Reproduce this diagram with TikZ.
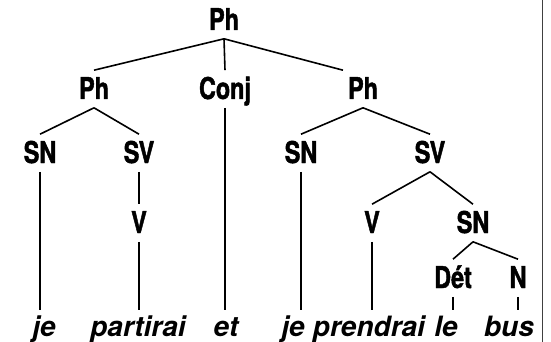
\documentclass[tikz,border=0pt]{standalone}
\usepackage{fontspec}
\setmainfont{TeX Gyre Heros}
\newfontfamily\condfont{TeX Gyre Heros}[FakeStretch=0.78,FakeBold=1.5]
\usetikzlibrary{calc}

\begin{document}
\begin{tikzpicture}[x=1pt,y=-1pt,line width=1.6pt,
  cat/.style={font=\condfont\bfseries\fontsize{30}{30}\selectfont,anchor=base,text height=20pt,text depth=0pt,inner ysep=8pt,inner xsep=0pt},
  word/.style={font=\bfseries\itshape\fontsize{28}{28}\selectfont,anchor=base,text height=17pt,text depth=0pt,inner ysep=8pt,inner xsep=0pt}]
\useasboundingbox (0,0) rectangle (551,342);
\draw[black!75,line width=1.2pt] (542.5,0) -- (542.5,342);
\node[cat] (ph) at (224,30) {Ph};
\node[cat] (phA) at (94,99) {Ph};
\node[cat] (conj) at (225,99) {Conj};
\node[cat] (phB) at (363,99) {Ph};
\node[cat] (snA) at (40,163) {SN};
\node[cat] (svA) at (139,163) {SV};
\node[cat] (snB) at (301,163) {SN};
\node[cat] (svB) at (430,163) {SV};
\node[cat] (vA) at (139,233) {V};
\node[cat] (vB) at (372,233) {V};
\node[cat] (snC) at (473,233) {SN};
\node[cat] (det) at (453,288) {Dét};
\node[cat] (n) at (518,288) {N};
% mots
\node[word] (je) at (44,336) {je};
\node[word] (partirai) at (138,336) {partirai};
\node[word] (et) at (226,336) {et};
\node[word] (jeB) at (293,336) {je};
\node[word] (prendrai) at (369,336) {prendrai};
\node[word] (le) at (446,336) {le};
\node[word] (bus) at (509,336) {bus};
\draw (ph.south) -- (phA.north);
\draw (ph.south) -- (conj.north);
\draw (ph.south) -- ([xshift=-20pt]phB.north);
\draw (phA.south) -- (snA.north);
\draw (phA.south) -- (svA.north);
\draw (phB.south) -- (snB.north);
\draw (phB.south) -- (svB.north);
\draw (svA.south) -- (vA.north);
\draw (svB.south) -- (vB.north);
\draw (svB.south) -- (snC.north);
\draw (snC.south) -- (det.north);
\draw (snC.south) -- (n.north);
% branches verticales
\draw (snA.south) -- (snA.south |- je.north);
\draw (vA.south) -- (vA.south |- partirai.north);
\draw (conj.south) -- (conj.south |- et.north);
\draw (snB.south) -- (snB.south |- jeB.north);
\draw (vB.south) -- (vB.south |- prendrai.north);
\draw (det.south) -- (det.south |- le.north);
\draw (n.south) -- (n.south |- bus.north);
\end{tikzpicture}
\end{document}
